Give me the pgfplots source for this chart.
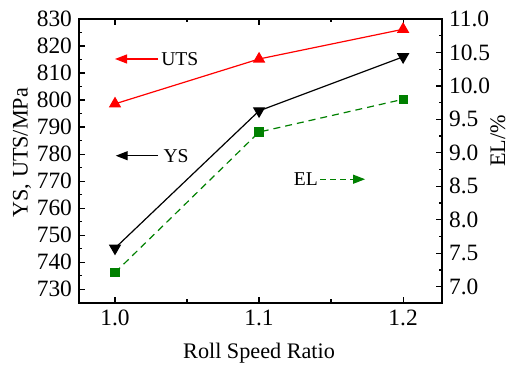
\documentclass[border=0pt]{standalone}
\usepackage{fontspec}
\setmainfont{Liberation Serif}
\usepackage{pgfplots}
\pgfplotsset{compat=1.18}
\usetikzlibrary{arrows.meta}
\definecolor{elgreen}{RGB}{0,128,0}
\begin{document}
\begin{tikzpicture}
\pgfplotsset{
  common/.style={
    scale only axis,
    width=181.5pt, height=141.85pt,
    xmin=0.975, xmax=1.227,
    xtick={1.0,1.1,1.2},
    minor x tick num=1,
    tick align=inside,
    major tick length=3pt,
    minor tick length=1.7pt,
    axis line style={line width=0.8pt},
    every tick/.style={line width=0.6pt, black},
    tick label style={font=\fontsize{11.7}{13}\selectfont},
    label style={font=\fontsize{11.1}{13}\selectfont},
    /pgf/number format/assume math mode=true,
  }
}
\begin{axis}[common, name=main,
  ymin=725, ymax=830,
  ytick={730,740,...,830},
  minor y tick num=1,
  ytick pos=left,
  xtick pos=both,
  xticklabel pos=bottom,
  xticklabel style={/pgf/number format/.cd,fixed,fixed zerofill,precision=1},
  yticklabel style={/pgf/number format/.cd,fixed,precision=0,1000 sep={}},
  xlabel={Roll Speed Ratio},
  ylabel={YS, UTS/MPa},
  xlabel style={at={(axis description cs:0.496,-0.177)}, anchor=center},
  ylabel style={at={(axis description cs:-0.157,0.529)}, anchor=center},
]
\addplot[red, line width=0.6pt, mark=triangle*, mark size=3pt, mark options={solid}]
  coordinates {(1.0,798.6) (1.1,815.2) (1.2,826.2)};
\addplot[black, line width=0.6pt, mark=triangle*, mark size=3pt, mark options={solid, rotate=180}]
  coordinates {(1.0,745.2) (1.1,796.0) (1.2,816.0)};
\draw[red, line width=0.6pt, -{Triangle[length=6pt,width=4.5pt]}] (axis cs:1.0299,815.2) -- (axis cs:1.0,815.2);
\node[anchor=west, inner sep=1pt, font=\fontsize{9.8}{11}\selectfont] at (axis cs:1.0305,815.2) {UTS};
\draw[black, line width=0.6pt, -{Triangle[length=6pt,width=4.5pt]}] (axis cs:1.0299,779.4) -- (axis cs:1.0005,779.4);
\node[anchor=west, inner sep=1pt, font=\fontsize{9.8}{11}\selectfont] at (axis cs:1.032,779.4) {YS};
\draw[elgreen, line width=0.6pt, dash pattern=on 3pt off 2pt, -{Triangle[length=6pt,width=4.5pt]}] (axis cs:1.1424,770.7) -- (axis cs:1.1736,770.7);
\node[anchor=east, inner sep=1pt, font=\fontsize{9.8}{11}\selectfont] at (axis cs:1.1424,770.7) {EL};
\end{axis}
\begin{axis}[common,
  ymin=6.76, ymax=11.0,
  ytick={7.0,7.5,...,11.0},
  minor y tick num=1,
  ytick pos=right,
  yticklabel pos=right,
  hide x axis,
  yticklabel style={/pgf/number format/.cd,fixed,fixed zerofill,precision=1},
  ylabel={EL/\%},
  ylabel style={at={(axis description cs:1.154,0.570)}, anchor=center},
]
\addplot[elgreen, line width=0.6pt, dash pattern=on 3.5pt off 2.5pt, mark=square*, mark size=2pt, mark options={solid}]
  coordinates {(1.0,7.21) (1.1,9.31) (1.2,9.80)};
\end{axis}
\pgfresetboundingbox
\path[use as bounding box] ([shift={(-39.5pt,-31.15pt)}]main.south west) rectangle ([shift={(32.5pt,9.5pt)}]main.north east);
\end{tikzpicture}
\end{document}
